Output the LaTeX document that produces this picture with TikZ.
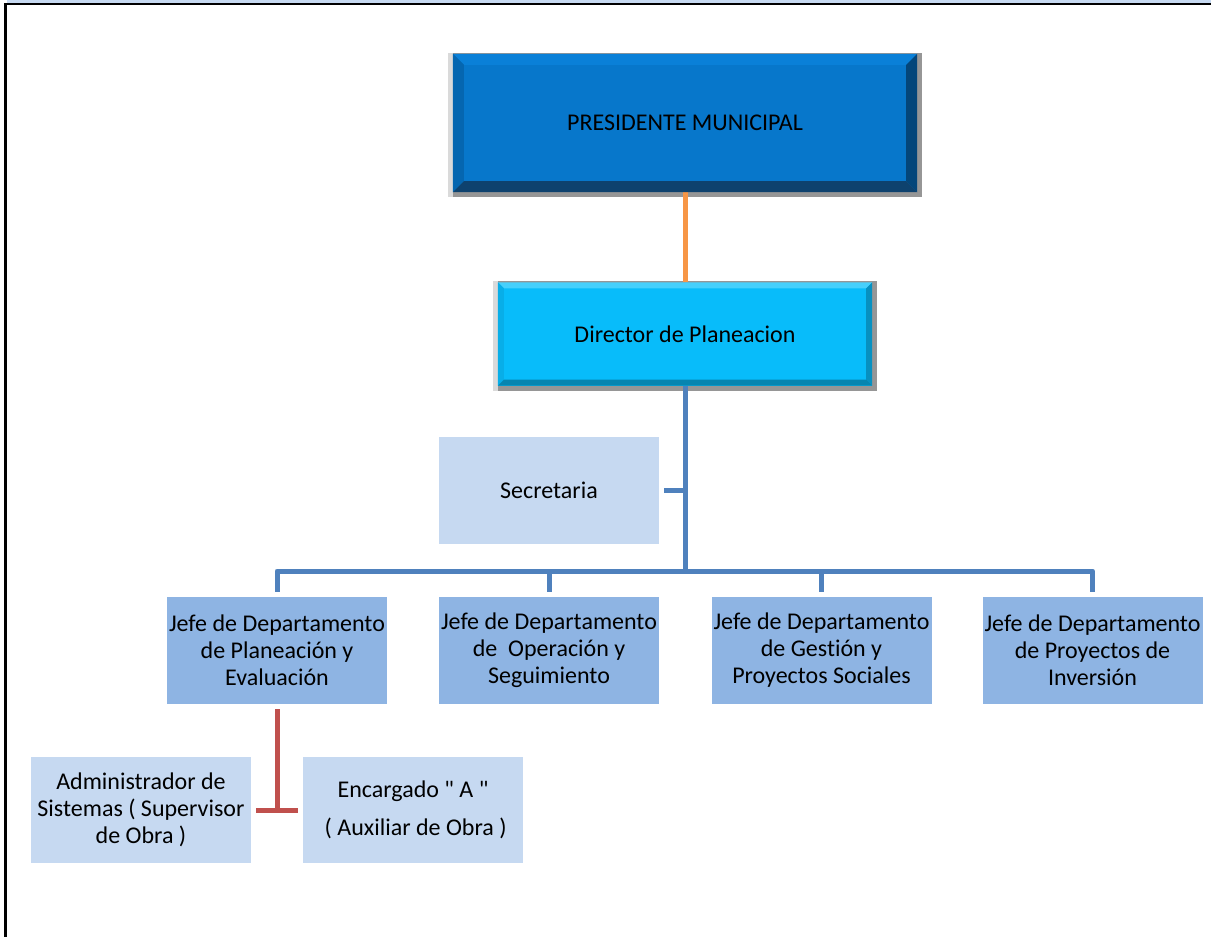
\documentclass[tikz,border=0pt]{standalone}
\usepackage{fontspec}
\setmainfont{Carlito}[Ligatures={TeX,NoCommon}]
\usetikzlibrary{calc}
\pgfdeclarelayer{bg}
\pgfsetlayers{bg,main}

\definecolor{presface}{RGB}{7,119,203}
\definecolor{prestop}{RGB}{10,128,216}
\definecolor{presleft}{RGB}{5,102,176}
\definecolor{presright}{RGB}{4,70,122}
\definecolor{presbottom}{RGB}{14,66,110}
\definecolor{dirface}{RGB}{8,188,250}
\definecolor{dirtop}{RGB}{70,208,252}
\definecolor{dirleft}{RGB}{8,174,232}
\definecolor{dirright}{RGB}{7,144,192}
\definecolor{dirbottom}{RGB}{7,133,176}
\definecolor{paleblue}{RGB}{198,217,241}
\definecolor{midblue}{RGB}{142,180,227}
\definecolor{linkblue}{RGB}{79,129,189}
\definecolor{linkorange}{RGB}{247,150,70}
\definecolor{linkred}{RGB}{192,80,77}
\definecolor{shadowdark}{RGB}{150,150,150}
\definecolor{shadowlight}{RGB}{218,218,218}

% bevelled button: node name, bevel width, top, left, right, bottom colours
\newcommand\bevel[6]{%
  \fill[#3] (#1.north west) -- (#1.north east) -- ($(#1.north east)+(-#2,#2)$) -- ($(#1.north west)+(#2,#2)$) -- cycle;
  \fill[#4] (#1.north west) -- ($(#1.north west)+(#2,#2)$) -- ($(#1.south west)+(#2,-#2)$) -- (#1.south west) -- cycle;
  \fill[#5] (#1.north east) -- ($(#1.north east)+(-#2,#2)$) -- ($(#1.south east)+(-#2,-#2)$) -- (#1.south east) -- cycle;
  \fill[#6] (#1.south west) -- ($(#1.south west)+(#2,-#2)$) -- ($(#1.south east)+(-#2,-#2)$) -- (#1.south east) -- cycle;
}
% outer shadow round a button, drawn behind it
\newcommand\buttonshadow[1]{%
  \begin{pgfonlayer}{bg}
    \fill[shadowdark] ($(#1.north west)+(0,-1)$) rectangle ($(#1.south east)+(5,5)$);
    \fill[shadowlight] ($(#1.north west)+(-5,-1)$) rectangle ($(#1.south west)+(0,5)$);
  \end{pgfonlayer}
}

\tikzset{
  x=1pt, y=-1pt,
  txt/.style={font=\fontsize{24}{27}\selectfont, align=center, inner sep=0pt},
  presbox/.style={txt, fill=presface, minimum width=464pt, minimum height=138pt},
  dirbox/.style={txt, fill=dirface, minimum width=374pt, minimum height=103pt},
  palebox/.style={txt, fill=paleblue, minimum width=220pt, minimum height=107pt},
  jefebox/.style={txt, fill=midblue, minimum width=220pt, minimum height=107pt},
  bluelink/.style={draw=linkblue, line width=5pt, line join=round},
  orangelink/.style={draw=linkorange, line width=5pt},
  redlink/.style={draw=linkred, line width=5pt},
}

\begin{document}
\begin{tikzpicture}
\useasboundingbox (0,0) rectangle (1211,937);
\begin{pgfonlayer}{bg}
  \fill[white] (0,0) rectangle (1211,937);
\end{pgfonlayer}

% page frame
\fill[paleblue] (7,0) rectangle (1211,3);
\draw[line width=2.5pt] (5.5,937) -- (5.5,4) -- (1211,4);

% top management
\node[presbox] (pres) at (685,123) {PRESIDENTE MUNICIPAL};
\bevel{pres}{11}{prestop}{presleft}{presright}{presbottom}
\buttonshadow{pres}

\node[dirbox] (dir) at (685,334) {Director de Planeacion};
\bevel{dir}{6}{dirtop}{dirleft}{dirright}{dirbottom}
\buttonshadow{dir}

% staff and departments
\node[palebox] (sec) at (549,490.5) {Secretaria};
\node[jefebox] (j1) at (277,650.5) {Jefe de Departamento\\de Planeación y\\Evaluación};
\node[jefebox] (j2) at (549,650.5) {Jefe de Departamento\\de\ \ Operación y\\Seguimiento};
\node[jefebox] (j3) at (821.5,650.5) {Jefe de Departamento\\de Gestión y\\Proyectos Sociales};
\node[jefebox] (j4) at (1092.5,650.5) {Jefe de Departamento\\de Proyectos de\\Inversión};

% operating staff
\node[palebox, minimum height=106pt] (adm) at (141,810) {Administrador de\\Sistemas ( Supervisor\\de Obra )};
\node[palebox, minimum height=106pt] (enc) at (413,810) {Encargado \textquotedbl\ A \textquotedbl\\[11pt]\ ( Auxiliar de Obra )};

% connectors
\coordinate (hub) at (685,571);
\coordinate (tee) at (277,810);
\begin{pgfonlayer}{bg}
  \draw[orangelink] (pres.south) -- (dir.north);
  \draw[bluelink] (dir.south) -- (hub);
\end{pgfonlayer}
\draw[bluelink, shorten <=5pt] (sec.east) -- (sec.east -| hub);
\draw[bluelink, shorten <=5pt, shorten >=5pt] (j1.north) |- (hub) -| (j4.north);
\draw[bluelink, shorten <=5pt] (j2.north) -- (j2.north |- hub);
\draw[bluelink, shorten <=5pt] (j3.north) -- (j3.north |- hub);
\draw[redlink, shorten <=5pt] (j1.south) -- (tee);
\draw[redlink, shorten <=5pt, shorten >=5pt] (adm.east) -- (enc.west);
\end{tikzpicture}
\end{document}
